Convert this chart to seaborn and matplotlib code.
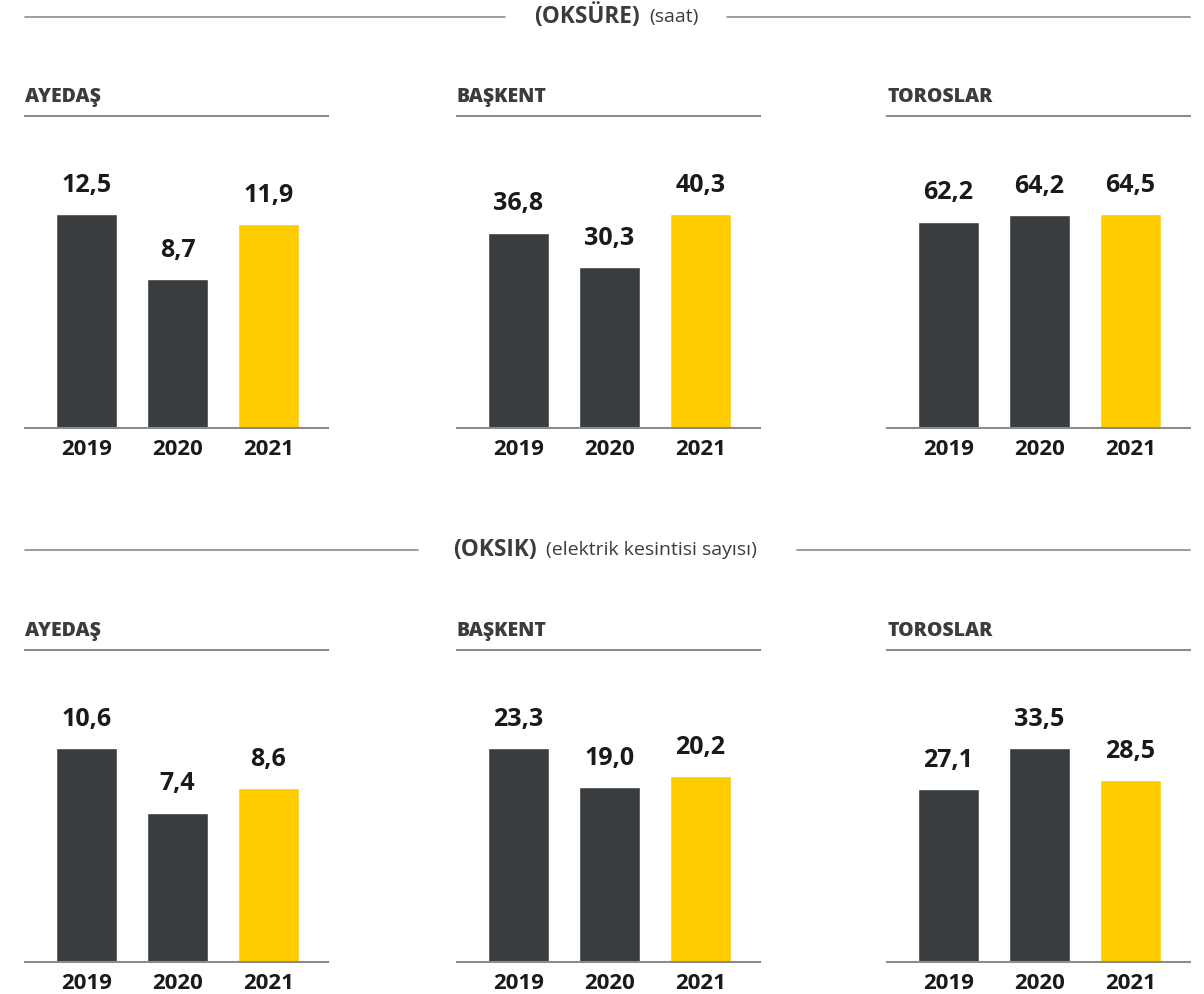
import matplotlib
matplotlib.use("Agg")
import matplotlib.pyplot as plt
import seaborn as sns
import pandas as pd

# data
years = ["2019", "2020", "2021"]
companies = ["AYEDAŞ", "BAŞKENT", "TOROSLAR"]
oksure = {
    "AYEDAŞ": [12.5, 8.7, 11.9],
    "BAŞKENT": [36.8, 30.3, 40.3],
    "TOROSLAR": [62.2, 64.2, 64.5],
}
oksik = {
    "AYEDAŞ": [10.6, 7.4, 8.6],
    "BAŞKENT": [23.3, 19.0, 20.2],
    "TOROSLAR": [27.1, 33.5, 28.5],
}

DARK = "#3a3d40"
YELLOW = "#ffcc00"
LINE = "#8c8c8c"
TEXT = "#3a3d40"

sns.set_theme(style="white")
plt.rcParams["font.family"] = ["Open Sans", "DejaVu Sans"]

W, H = 1204, 994
fig = plt.figure(figsize=(W / 100, H / 100), dpi=100)


def px_rect(left, top, width, height):
    return [left / W, 1 - (top + height) / H, width / W, height / H]


def draw_panel(left, baseline, title, values):
    ax = fig.add_axes(px_rect(left, baseline - 312, 303, 312))
    df = pd.DataFrame({"year": years, "value": values})
    sns.barplot(data=df, x="year", y="value", hue="year",
                palette=[DARK, DARK, YELLOW], legend=False,
                width=0.67, saturation=1, ax=ax)
    ax.set_xlim(-0.676, 2.654)
    ax.set_ylim(0, max(values) * 312 / 214)
    ax.set_xlabel("")
    ax.set_ylabel("")
    ax.set_yticks([])
    for side in ["left", "right"]:
        ax.spines[side].set_visible(False)
    for side in ["top", "bottom"]:
        ax.spines[side].set_color(LINE)
        ax.spines[side].set_linewidth(1.5)
    ax.tick_params(axis="x", length=0, pad=8, labelsize=16, labelcolor="#1a1a1a")
    for lab in ax.get_xticklabels():
        lab.set_fontweight("bold")
    for i, v in enumerate(values):
        ax.annotate(f"{v:.1f}".replace(".", ","), (i, v), xytext=(0, 16),
                    textcoords="offset points", ha="center", va="baseline",
                    fontsize=18, fontweight="bold", color="#1a1a1a")
    ax.annotate(title, (0, 1), xycoords="axes fraction", xytext=(0, 10),
                textcoords="offset points", ha="left", va="baseline",
                fontsize=14, fontweight="heavy", color=TEXT)
    return ax


lefts = [25, 457, 887]
for left, name in zip(lefts, companies):
    draw_panel(left, 428, name, oksure[name])
    draw_panel(left, 962, name, oksik[name])


def header(y, bold, regular, split_x, line_left_end, line_right_start):
    yf = 1 - y / H
    fig.text(split_x / W, yf, bold, ha="right", va="center", fontsize=16.3,
             fontweight="bold", color=TEXT)
    fig.text((split_x + 9) / W, yf, regular, ha="left", va="center",
             fontsize=14, color=TEXT)
    fig.add_artist(plt.Line2D([25 / W, line_left_end / W], [yf, yf],
                              color=LINE, lw=1.2))
    fig.add_artist(plt.Line2D([line_right_start / W, 1190 / W], [yf, yf],
                              color=LINE, lw=1.2))


header(17, "(OKSÜRE)", "(saat)", 640, 505, 727)
header(550, "(OKSIK)", "(elektrik kesintisi sayısı)", 537, 418, 797)

fig.savefig("out.png", dpi=100, facecolor="white")
